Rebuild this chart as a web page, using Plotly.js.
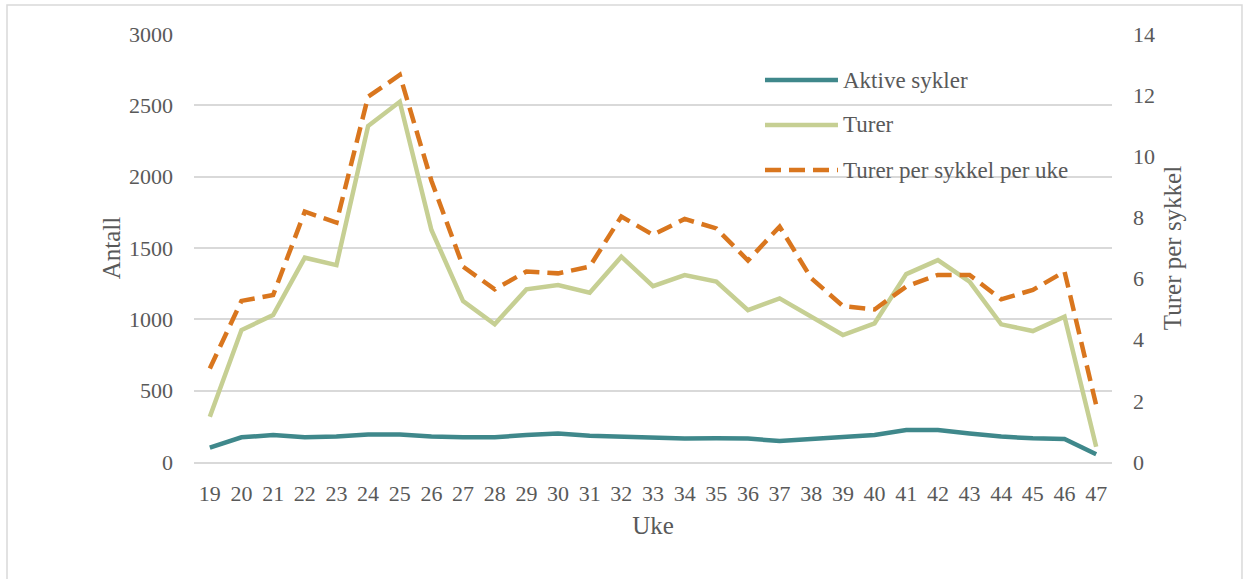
<!DOCTYPE html>
<html>
<head>
<meta charset="utf-8">
<script src="https://cdn.plot.ly/plotly-3.0.1.min.js"></script>
<style>html,body{margin:0;padding:0;background:#fff;}#chart{width:1244px;height:579px;}</style>
</head>
<body>
<div id="chart"></div>
<script>
var weeks = ["19","20","21","22","23","24","25","26","27","28","29","30","31","32","33","34","35","36","37","38","39","40","41","42","43","44","45","46","47"];
var aktiveSykler = [100,173,189,173,178,192,192,178,173,173,189,199,184,178,166,164,166,164,147,159,173,189,224,224,199,178,166,161,54];
var turer = [317,925,1030,1432,1380,2355,2525,1626,1128,965,1210,1240,1187,1439,1233,1310,1264,1065,1147,1020,890,972,1317,1415,1264,965,918,1018,107];
var turerPerSykkel = [3.06,5.27,5.46,8.19,7.83,11.95,12.66,9.2,6.39,5.65,6.23,6.17,6.39,8.03,7.43,7.95,7.64,6.59,7.70,6.01,5.10,4.99,5.74,6.12,6.12,5.32,5.63,6.23,1.86];
var seriesNames = ["Aktive sykler","Turer","Turer per sykkel per uke"];
var seriesColors = ["#3F888B","#C6CF93","#D9761E"];

var FONT = "Liberation Serif";
var TXT = "#595959";
var GRID = "#D9D9D9";
var DASH = "16px,8px";

var traces = [
  {x: weeks, y: aktiveSykler, name: seriesNames[0], type: "scatter", mode: "lines",
   line: {color: seriesColors[0], width: 4.5}, yaxis: "y"},
  {x: weeks, y: turer, name: seriesNames[1], type: "scatter", mode: "lines",
   line: {color: seriesColors[1], width: 4.5}, yaxis: "y"},
  {x: weeks, y: turerPerSykkel, name: seriesNames[2], type: "scatter", mode: "lines",
   line: {color: seriesColors[2], width: 4.5, dash: DASH}, yaxis: "y2"}
];

// manual legend (paper coordinates)
var legendRowsY = [0.8925, 0.7874, 0.6822];
var shapes = [
  {type: "rect", xref: "paper", yref: "paper", x0: -0.2037, x1: 1.1416, y0: -0.28, y1: 1.0678,
   line: {color: "#D9D9D9", width: 1.5}, fillcolor: "rgba(0,0,0,0)", layer: "below"}
];
var annotations = [];
for (var i = 0; i < seriesNames.length; i++) {
  shapes.push({type: "line", xref: "paper", yref: "paper", x0: 0.622, x1: 0.7015,
    y0: legendRowsY[i], y1: legendRowsY[i],
    line: {color: seriesColors[i], width: 4.5, dash: i === 2 ? DASH : "solid"}});
  annotations.push({xref: "paper", yref: "paper", x: 0.705, y: legendRowsY[i],
    xanchor: "left", yanchor: "middle", text: seriesNames[i], showarrow: false,
    font: {family: FONT, size: 23, color: TXT}});
}

var layout = {
  width: 1244, height: 579,
  margin: {l: 194, r: 132, t: 34, b: 117, pad: 0},
  paper_bgcolor: "#FFFFFF", plot_bgcolor: "#FFFFFF",
  font: {family: FONT, size: 22, color: TXT},
  showlegend: false,
  xaxis: {
    type: "category", range: [-0.5, weeks.length - 0.5], showgrid: false, zeroline: false,
    showline: true, linecolor: GRID, linewidth: 2,
    ticks: "", ticklabelstandoff: 11,
    tickfont: {family: FONT, size: 22, color: TXT},
    title: {text: "Uke", font: {family: FONT, size: 25, color: TXT}, standoff: 11}
  },
  yaxis: {
    range: [0, 3000], dtick: 500, showgrid: true, gridcolor: GRID, gridwidth: 2,
    zeroline: false, showline: false, ticks: "", ticklabelstandoff: 20,
    tickfont: {family: FONT, size: 22, color: TXT},
    title: {text: "Antall", font: {family: FONT, size: 25, color: TXT}, standoff: 1}
  },
  yaxis2: {
    range: [0, 14], dtick: 2, overlaying: "y", side: "right", showgrid: false,
    zeroline: false, showline: false, ticks: "", ticklabelstandoff: 20,
    tickfont: {family: FONT, size: 22, color: TXT},
    title: {text: "Turer per sykkel", font: {family: FONT, size: 25, color: TXT}, standoff: 9}
  },
  shapes: shapes,
  annotations: annotations
};

Plotly.newPlot("chart", traces, layout, {displayModeBar: false, staticPlot: true});
</script>
</body>
</html>
